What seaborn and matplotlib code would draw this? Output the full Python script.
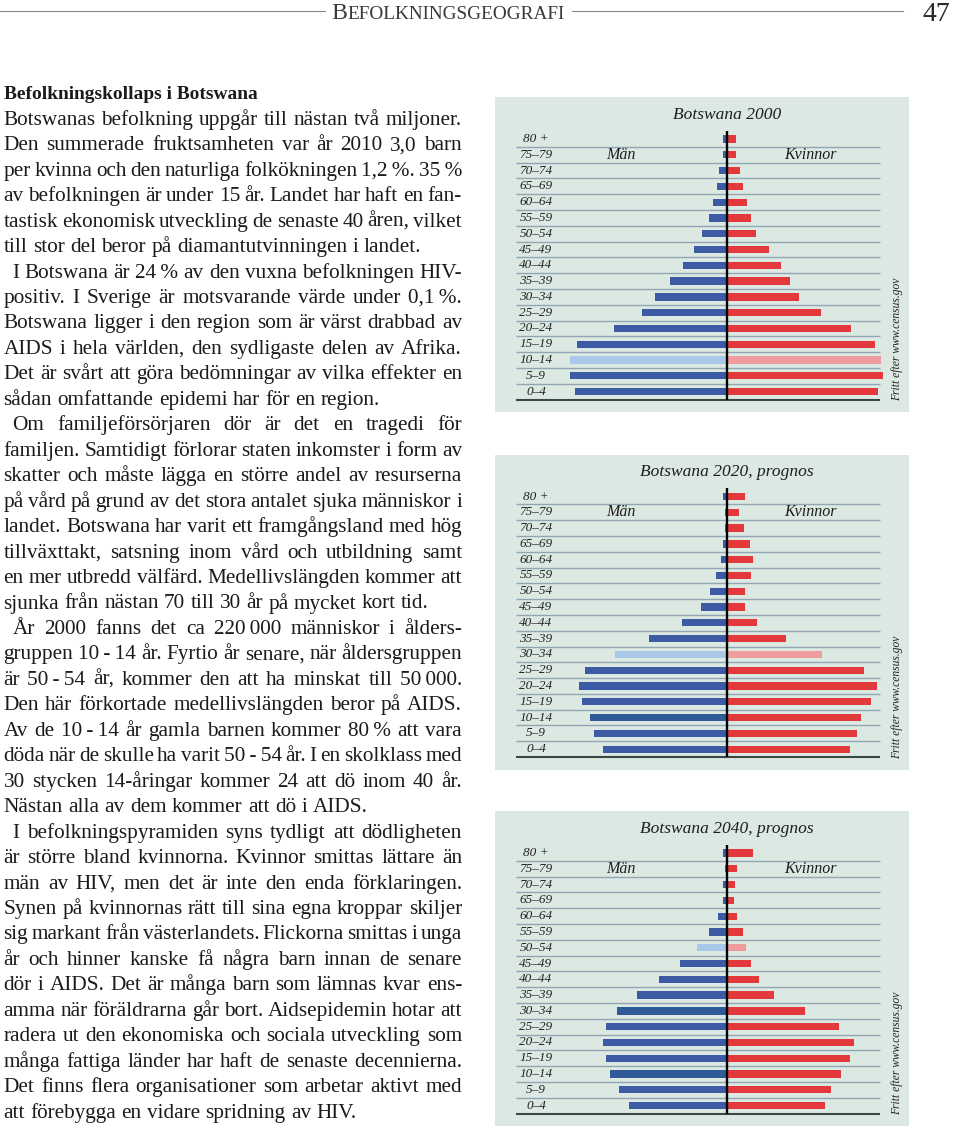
import matplotlib
matplotlib.use("Agg")
import matplotlib.pyplot as plt
from matplotlib.font_manager import FontProperties
import numpy as np
import pandas as pd
import seaborn as sns

# ---------------- data ----------------
ages = ["80 +", "75–79", "70–74", "65–69", "60–64", "55–59", "50–54", "45–49",
        "40–44", "35–39", "30–34", "25–29", "20–24", "15–19", "10–14", "5–9", "0–4"]

# population (thousands) per age group
men_2000 = [3.5, 3, 6, 8, 11, 13.5, 19, 25, 33.5, 43, 54, 64, 85, 113, 118, 118, 114]
women_2000 = [6.5, 6.5, 9.5, 12, 15, 18, 21.5, 31.5, 40.5, 47, 53.5, 70, 93, 111, 115, 117, 113]
men_2020 = [3.5, 2, 2, 3, 5, 8.5, 13, 20, 34, 59, 84, 107, 111, 109, 103, 100, 93.5]
women_2020 = [13, 9, 12.5, 17, 19, 18, 13, 13.5, 22, 44, 71, 102.5, 112.5, 108, 100, 97, 92]
men_2040 = [3.5, 1.5, 3, 3, 7, 14, 23, 35.5, 51, 68, 82.5, 91, 93.5, 91, 88, 81.5, 74]
women_2040 = [19, 7.5, 6, 5, 7.5, 12, 14, 18, 24, 35, 58.5, 83.5, 95, 92, 85, 78, 73]

titles = ["Botswana 2000", "Botswana 2020, prognos", "Botswana 2040, prognos"]
highlight_groups = ["10–14", "30–34", "50–54"]   # the cohort aged 10-14 in 2000
dark_groups = [[], ["10–14"], ["30–34", "10–14"]]
men_label, women_label = "Män", "Kvinnor"
source = "Fritt efter www.census.gov"

header_title = "Befolkningsgeografi"
page_number = "47"
heading = "Befolkningskollaps i Botswana"
paragraphs = [
    ["Botswanas befolkning uppgår till nästan två miljoner.",
     "Den summerade fruktsamheten var år 2010 3,0 barn",
     "per kvinna och den naturliga folkökningen 1,2\u2009%. 35\u2009%",
     "av befolkningen är under 15 år. Landet har haft en fan-",
     "tastisk ekonomisk utveckling de senaste 40 åren, vilket",
     "till stor del beror på diamantutvinningen i landet."],
    ["I Botswana är 24\u2009% av den vuxna befolkningen HIV-",
     "positiv. I Sverige är motsvarande värde under 0,1\u2009%.",
     "Botswana ligger i den region som är värst drabbad av",
     "AIDS i hela världen, den sydligaste delen av Afrika.",
     "Det är svårt att göra bedömningar av vilka effekter en",
     "sådan omfattande epidemi har för en region."],
    ["Om familjeförsörjaren dör är det en tragedi för",
     "familjen. Samtidigt förlorar staten inkomster i form av",
     "skatter och måste lägga en större andel av resurserna",
     "på vård på grund av det stora antalet sjuka människor i",
     "landet. Botswana har varit ett framgångsland med hög",
     "tillväxttakt, satsning inom vård och utbildning samt",
     "en mer utbredd välfärd. Medellivslängden kommer att",
     "sjunka från nästan 70 till 30 år på mycket kort tid."],
    ["År 2000 fanns det ca 220\u2009000 människor i ålders-",
     "gruppen 10\u2009-\u200914 år. Fyrtio år senare, när åldersgruppen",
     "är 50\u2009-\u200954 år, kommer den att ha minskat till 50\u2009000.",
     "Den här förkortade medellivslängden beror på AIDS.",
     "Av de 10\u2009-\u200914 år gamla barnen kommer 80\u2009% att vara",
     "döda när de skulle ha varit 50\u2009-\u200954 år. I en skolklass med",
     "30 stycken 14-åringar kommer 24 att dö inom 40 år.",
     "Nästan alla av dem kommer att dö i AIDS."],
    ["I befolkningspyramiden syns tydligt att dödligheten",
     "är större bland kvinnorna. Kvinnor smittas lättare än",
     "män av HIV, men det är inte den enda förklaringen.",
     "Synen på kvinnornas rätt till sina egna kroppar skiljer",
     "sig markant från västerlandets. Flickorna smittas i unga",
     "år och hinner kanske få några barn innan de senare",
     "dör i AIDS. Det är många barn som lämnas kvar ens-",
     "amma när föräldrarna går bort. Aidsepidemin hotar att",
     "radera ut den ekonomiska och sociala utveckling som",
     "många fattiga länder har haft de senaste decennierna.",
     "Det finns flera organisationer som arbetar aktivt med",
     "att förebygga en vidare spridning av HIV."],
]

# ---------------- style ----------------
W, H = 960, 1129
SERIF = ["Liberation Serif", "DejaVu Serif"]
plt.rcParams["font.family"] = SERIF

BG = "#dce9e2"
BLUE = "#3c5ba4"
BLUE_DARK = "#2f5b98"
LBLUE = "#a9c8e8"
RED = "#e3383c"
LRED = "#f09c9e"
GRID = "#91a5b5"
TEXT = "#1c1a1a"

fig = plt.figure(figsize=(W / 100, H / 100), dpi=100)
fig.patch.set_facecolor("white")
renderer = fig.canvas.get_renderer()


def fx(x):
    return x / W


def fy(y):
    return 1 - y / H


def text_w(s, fp):
    w, h, d = renderer.get_text_width_height_descent(s, fp, ismath=False)
    return w


# ---------------- header ----------------
hdr_base = 19
fp_big = FontProperties(family=SERIF, size=14)
fp_small = FontProperties(family=SERIF, size=11.3)
first, rest = header_title[0].upper(), header_title[1:].upper()
tw = text_w(first, fp_big) + text_w(rest, fp_small)
scale = 235 / tw
fp_big = FontProperties(family=SERIF, size=14 * scale)
fp_small = FontProperties(family=SERIF, size=11.3 * scale)
hx = 331
fig.text(fx(hx), fy(hdr_base), first, fontproperties=fp_big, color="#3a3a3a", va="baseline")
fig.text(fx(hx + text_w(first, fp_big) + 0.5), fy(hdr_base), rest, fontproperties=fp_small,
         color="#3a3a3a", va="baseline")
fig.add_artist(plt.Line2D([fx(0), fx(325)], [fy(11), fy(11)], color="#8a8a8a", lw=0.8))
fig.add_artist(plt.Line2D([fx(572), fx(903)], [fy(11), fy(11)], color="#8a8a8a", lw=0.8))
fig.text(fx(936), fy(21), page_number, family=SERIF, fontsize=20, color="#2a2a2a",
         ha="center", va="baseline")

# ---------------- body text ----------------
x_left, x_right = 3.5, 462.0
indent = 9.0
base0 = 99.3
lh = 25.46

lines = []
for pi, para in enumerate(paragraphs):
    for li, ln in enumerate(para):
        lines.append((ln, pi > 0 and li == 0, li < len(para) - 1))

size = 16.5
while True:
    fp = FontProperties(family=SERIF, size=size)
    sp = text_w("a a", fp) - text_w("aa", fp)
    ok = True
    for ln, ind, just in lines:
        if not just:
            continue
        words = ln.split(" ")
        avail = x_right - x_left - (indent if ind else 0)
        gap = (avail - sum(text_w(w_, fp) for w_ in words)) / (len(words) - 1)
        if gap < 0.6 * sp:
            ok = False
            break
    if ok or size < 10:
        break
    size -= 0.1

fp = FontProperties(family=SERIF, size=size)
sp = text_w("a a", fp) - text_w("aa", fp)
hsize = size
fp_bold = FontProperties(family=SERIF, size=hsize, weight="bold")
hsize = hsize * min(1.0, 252 / text_w(heading, fp_bold))
fp_bold = FontProperties(family=SERIF, size=hsize, weight="bold")
fig.text(fx(x_left), fy(base0), heading, fontproperties=fp_bold, color=TEXT, va="baseline")
for k, (ln, ind, just) in enumerate(lines):
    y = base0 + lh * (k + 1)
    x0 = x_left + (indent if ind else 0)
    words = ln.split(" ")
    ws = [text_w(w_, fp) for w_ in words]
    if just and len(words) > 1:
        gap = (x_right - x0 - sum(ws)) / (len(words) - 1)
    else:
        gap = sp
    x = x0
    for w_, wd in zip(words, ws):
        fig.text(fx(x), fy(y), w_, fontproperties=fp, color=TEXT, va="baseline", ha="left")
        x += wd + gap

# ---------------- pyramids ----------------
K = 0.75                     # thousands per pixel
box_x0, box_x1 = 495, 909
cx = 727.3
box_h = 315
row0, rowh = 42, 15.79
tops = [97, 454.5, 811]
grid_x0, grid_x1 = (516 - cx) * K, (880 - cx) * K

men_all = [men_2000, men_2020, men_2040]
women_all = [women_2000, women_2020, women_2040]

for p in range(3):
    T = tops[p]
    ax = fig.add_axes([fx(box_x0), fy(T + box_h), (box_x1 - box_x0) / W, box_h / H])
    ax.set_facecolor(BG)
    df = pd.DataFrame({"age": ages, "men": np.array(men_all[p]) * -1.0,
                       "women": np.array(women_all[p], dtype=float)})
    mcol = {a: (LBLUE if a == highlight_groups[p] else
                (BLUE_DARK if a in dark_groups[p] else BLUE)) for a in ages}
    wcol = {a: (LRED if a == highlight_groups[p] else RED) for a in ages}
    sns.barplot(data=df, x="men", y="age", hue="age", palette=mcol, order=ages,
                hue_order=ages, orient="h", width=0.46, saturation=1, linewidth=0,
                legend=False, ax=ax, zorder=3)
    sns.barplot(data=df, x="women", y="age", hue="age", palette=wcol, order=ages,
                hue_order=ages, orient="h", width=0.46, saturation=1, linewidth=0,
                legend=False, ax=ax, zorder=3)

    ax.hlines(np.arange(len(ages) - 1) + 0.5, grid_x0, grid_x1, color=GRID, lw=1.0, zorder=1)
    ax.hlines(len(ages) - 0.5, grid_x0, grid_x1, color="#3b4745", lw=1.5, zorder=2)
    ax.plot([0, 0], [-0.53, len(ages) - 0.5], color="black", lw=1.7,
            solid_capstyle="butt", zorder=5)

    for i, a in enumerate(ages):
        ax.text((536 - cx) * K, i, a, ha="center", va="center", fontsize=9.5,
                style="italic", color="#222222", zorder=6)
    ax.text(0, -1.55, titles[p], ha="center", va="center", fontsize=12.5,
            style="italic", color="#1e1e1e")
    ax.text((621 - cx) * K, 1, men_label, ha="center", va="center", fontsize=11.5,
            style="italic", color="#1e1e1e")
    ax.text((810 - cx) * K, 1, women_label, ha="center", va="center", fontsize=11.5,
            style="italic", color="#1e1e1e")
    ax.text((897 - cx) * K, 16.6, source, rotation=90, ha="center", va="bottom",
            fontsize=8.3, style="italic", color="#222222")

    ax.set_xlim(-(cx - box_x0) * K, (box_x1 - cx) * K)
    ax.set_ylim((box_h - row0) / rowh, -row0 / rowh)
    ax.set_xticks([])
    ax.set_yticks([])
    ax.set_xlabel("")
    ax.set_ylabel("")
    for s in ax.spines.values():
        s.set_visible(False)

fig.savefig("out.png", dpi=100, facecolor="white")
